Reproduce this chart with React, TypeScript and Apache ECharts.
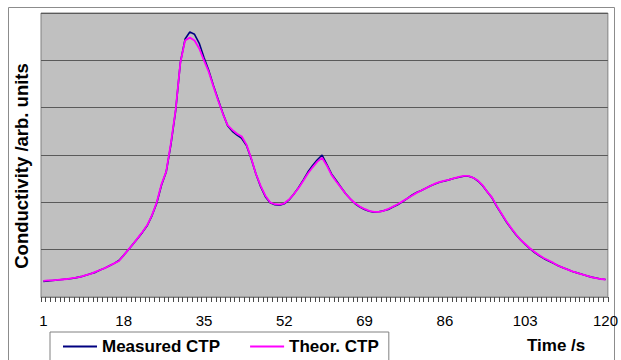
import React, { useEffect, useRef } from "react";
import * as echarts from "echarts";

// Time axis: samples 1..120 s
const timeSeconds: string[] = Array.from({ length: 120 }, (_, i) => String(i + 1));

// Measured conductivity trace (arb. units)
const measuredCTP: number[] = [
  0.33, 0.34, 0.35, 0.36, 0.37, 0.38, 0.39, 0.41, 0.43, 0.46,
  0.49, 0.52, 0.57, 0.61, 0.66, 0.71, 0.77, 0.88, 1.0, 1.12,
  1.24, 1.37, 1.51, 1.72, 1.98, 2.36, 2.64, 3.22, 3.93, 4.95,
  5.45, 5.6, 5.55, 5.36, 5.06, 4.79, 4.47, 4.17, 3.88, 3.62,
  3.5, 3.42, 3.35, 3.2, 2.92, 2.6, 2.33, 2.12, 1.99, 1.95,
  1.94, 1.97, 2.05, 2.17, 2.31, 2.47, 2.64, 2.78, 2.9, 3.0,
  2.8, 2.6, 2.46, 2.32, 2.18, 2.07, 1.97, 1.9, 1.85, 1.81,
  1.79, 1.8, 1.82, 1.85, 1.9, 1.95, 2.01, 2.08, 2.15, 2.21,
  2.25, 2.3, 2.35, 2.39, 2.43, 2.45, 2.48, 2.51, 2.53, 2.55,
  2.55, 2.52, 2.45, 2.35, 2.22, 2.09, 1.91, 1.75, 1.59, 1.45,
  1.32, 1.21, 1.11, 1.02, 0.94, 0.87, 0.81, 0.76, 0.71, 0.66,
  0.62, 0.58, 0.54, 0.51, 0.48, 0.45, 0.42, 0.4, 0.38, 0.37,
];

// Theoretical conductivity trace (arb. units)
const theoreticalCTP: number[] = [
  0.34, 0.35, 0.35, 0.36, 0.37, 0.38, 0.4, 0.41, 0.43, 0.46,
  0.49, 0.53, 0.57, 0.61, 0.66, 0.71, 0.76, 0.88, 1.0, 1.12,
  1.25, 1.38, 1.52, 1.73, 2.0, 2.38, 2.65, 3.25, 3.95, 4.95,
  5.42, 5.48, 5.42, 5.25, 5.0, 4.76, 4.45, 4.15, 3.87, 3.63,
  3.53, 3.45, 3.39, 3.22, 2.93, 2.6, 2.35, 2.14, 2.0, 1.96,
  1.95, 1.98, 2.06, 2.17, 2.3, 2.45, 2.61, 2.74, 2.86, 2.94,
  2.78, 2.58, 2.44, 2.31, 2.18, 2.07, 1.98, 1.91, 1.86, 1.82,
  1.8, 1.8, 1.82, 1.86, 1.91, 1.96, 2.02, 2.08, 2.14, 2.2,
  2.25, 2.3, 2.35, 2.4, 2.43, 2.46, 2.48, 2.51, 2.54, 2.56,
  2.56, 2.52, 2.46, 2.36, 2.22, 2.1, 1.92, 1.76, 1.6, 1.46,
  1.33, 1.21, 1.12, 1.03, 0.95, 0.88, 0.82, 0.77, 0.72, 0.66,
  0.62, 0.58, 0.54, 0.51, 0.48, 0.45, 0.42, 0.4, 0.38, 0.37,
];

const seriesNames: string[] = ["Measured CTP", "Theor. CTP"];
const labelStep = 17;

const FONT = "'Liberation Sans', Arial, sans-serif";

export default function App() {
  const ref = useRef<HTMLDivElement>(null);

  useEffect(() => {
    if (!ref.current) return;
    const chart = echarts.init(ref.current, undefined, { renderer: "svg" });
    chart.setOption({
      animation: false,
      backgroundColor: "#ffffff",
      grid: {
        left: 41,
        top: 13,
        right: 10,
        bottom: 63,
        show: true,
        backgroundColor: "#c0c0c0",
        borderColor: "#808080",
        borderWidth: 1,
      },
      legend: {
        data: seriesNames,
        left: 50,
        top: 332,
        orient: "horizontal",
        padding: [6, 10, 10, 13],
        icon: "rect",
        itemWidth: 34,
        itemHeight: 2,
        itemGap: 30,
        borderColor: "#808080",
        borderWidth: 1,
        backgroundColor: "#ffffff",
        textStyle: {
          fontFamily: FONT,
          fontWeight: "bold",
          fontSize: 17,
          color: "#000000",
          padding: [2, 0, 0, 0],
        },
      },
      xAxis: {
        type: "category",
        data: timeSeconds,
        boundaryGap: true,
        axisLine: { show: true, lineStyle: { color: "#808080", width: 1 } },
        axisTick: {
          show: true,
          interval: 0,
          length: 5,
          lineStyle: { color: "#4a4a4a" },
        },
        axisLabel: {
          interval: (index: number) => index % labelStep === 0,
          margin: 16,
          fontFamily: FONT,
          fontSize: 15,
          color: "#000000",
        },
        splitLine: { show: false },
      },
      yAxis: {
        type: "value",
        min: 0,
        max: 6,
        interval: 1,
        axisLine: { show: false },
        axisTick: { show: false },
        axisLabel: { show: false },
        splitLine: { show: true, lineStyle: { color: "#5a5a5a", width: 1 } },
      },
      graphic: [
        {
          type: "rect",
          silent: true,
          z: -10,
          shape: { x: 8.5, y: 7.5, width: 606, height: 400 },
          style: { fill: "none", stroke: "#8c8c8c", lineWidth: 1 },
        },
        {
          type: "text",
          x: 31,
          y: 166,
          rotation: Math.PI / 2,
          style: {
            text: "Conductivity /arb. units",
            fontFamily: FONT,
            fontWeight: "bold",
            fontSize: 18.5,
            fill: "#000000",
            textAlign: "center",
            textVerticalAlign: "bottom",
          },
        },
        {
          type: "text",
          x: 527,
          y: 345,
          style: {
            text: "Time /s",
            fontFamily: FONT,
            fontWeight: "bold",
            fontSize: 17,
            fill: "#000000",
            textAlign: "left",
            textVerticalAlign: "middle",
          },
        },
      ],
      series: [
        {
          name: seriesNames[0],
          type: "line",
          data: measuredCTP,
          symbol: "none",
          smooth: false,
          lineStyle: { color: "#000080", width: 1.6 },
          itemStyle: { color: "#000080" },
          z: 2,
        },
        {
          name: seriesNames[1],
          type: "line",
          data: theoreticalCTP,
          symbol: "none",
          smooth: false,
          lineStyle: { color: "#ff00ff", width: 1.8 },
          itemStyle: { color: "#ff00ff" },
          z: 3,
        },
      ],
    });
    return () => chart.dispose();
  }, []);

  return (
    <div
      ref={ref}
      style={{ position: "fixed", left: 0, top: 0, width: 621, height: 360 }}
    />
  );
}
